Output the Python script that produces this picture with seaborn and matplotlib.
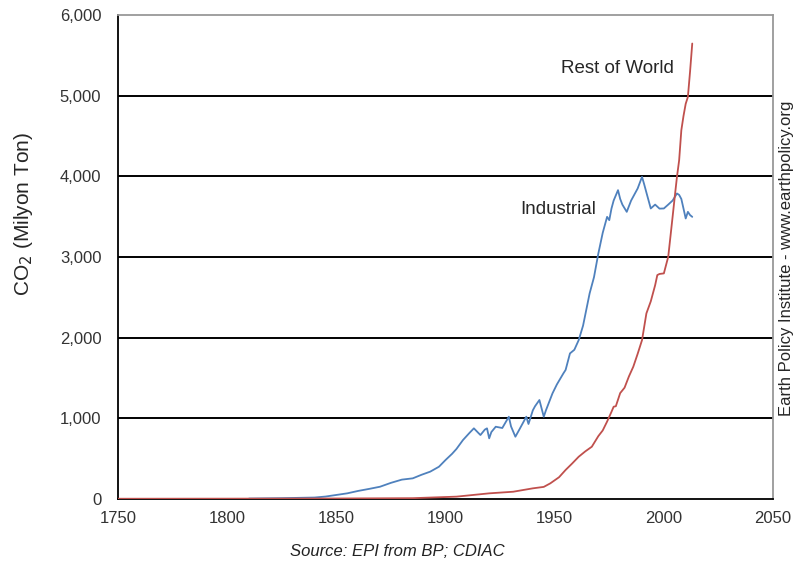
import matplotlib
matplotlib.use('Agg')
import matplotlib.pyplot as plt
import seaborn as sns

# data (million tons CO2)
ind_years = [1810, 1825, 1840, 1845, 1850, 1855, 1860, 1865, 1870, 1875, 1880, 1885,
             1889, 1893, 1897, 1900, 1903, 1905, 1908, 1911, 1913, 1915, 1916, 1918,
             1919, 1920, 1921, 1923, 1926, 1929, 1930, 1932, 1934, 1937, 1938, 1940,
             1941, 1943, 1945, 1946, 1949, 1951, 1954, 1955, 1957, 1959, 1961, 1963,
             1966, 1968, 1970, 1972, 1974, 1975, 1976, 1977, 1979, 1980, 1981, 1983,
             1985, 1986, 1988, 1990, 1991, 1992, 1994, 1996, 1998, 2000, 2002, 2004,
             2006, 2007, 2008, 2009, 2010, 2011, 2012, 2013]
ind_vals = [5, 10, 18, 30, 50, 70, 100, 125, 152, 200, 240, 256,
            300, 339, 400, 483, 560, 620, 731, 820, 876, 820, 793, 860,
            876, 752, 830, 896, 880, 1020, 900, 772, 870, 1020, 930, 1100,
            1150, 1227, 1020, 1100, 1310, 1420, 1558, 1600, 1805, 1850, 1970, 2150,
            2549, 2750, 3045, 3300, 3498, 3457, 3600, 3700, 3829, 3720, 3650, 3560,
            3700, 3750, 3850, 3994, 3900, 3800, 3602, 3650, 3600, 3602, 3650, 3700,
            3788, 3770, 3720, 3600, 3478, 3560, 3520, 3498]

row_years = [1750, 1800, 1850, 1885, 1905, 1920, 1931, 1940, 1945, 1948, 1952,
             1955, 1958, 1961, 1964, 1967, 1970, 1972, 1974, 1976, 1977, 1978,
             1980, 1982, 1984, 1986, 1988, 1990, 1992, 1994, 1996, 1997, 1998,
             2000, 2001, 2002, 2003, 2004, 2005, 2006, 2007, 2008, 2009, 2010,
             2011, 2012, 2013]
row_vals = [3, 4, 6, 10, 29, 70, 90, 132, 150, 194, 270,
            360, 440, 524, 590, 648, 780, 850, 960, 1080, 1144, 1150,
            1313, 1380, 1520, 1640, 1800, 1970, 2301, 2450, 2650, 2776, 2790,
            2797, 2900, 3003, 3250, 3498, 3750, 3994, 4200, 4572, 4750, 4900,
            4985, 5300, 5647]

y_ticks = [0, 1000, 2000, 3000, 4000, 5000, 6000]
x_ticks = [1750, 1800, 1850, 1900, 1950, 2000, 2050]

sns.set_style("white")
plt.rcParams['font.family'] = ['Liberation Sans', 'DejaVu Sans']

fig = plt.figure(figsize=(7.94, 5.66), dpi=100)
ax = fig.add_axes([0.1486, 0.1184, 0.825, 0.855])

# gridlines first so the lines sit on top
for yv in y_ticks[1:-1]:
    ax.axhline(yv, color='black', lw=1.4, zorder=1)

sns.lineplot(x=ind_years, y=ind_vals, color='#4F81BD', lw=1.3, ax=ax, zorder=3)
sns.lineplot(x=row_years, y=row_vals, color='#C0504D', lw=1.3, ax=ax, zorder=4)

ax.set_xlim(1750, 2050)
ax.set_ylim(0, 6000)
ax.set_xticks(x_ticks)
ax.set_yticks(y_ticks)
ax.set_yticklabels([f'{v:,}' for v in y_ticks])
ax.tick_params(axis='y', direction='inout', length=8, width=1.2, colors='black',
               labelsize=12, labelcolor='#333333', pad=8)
ax.tick_params(axis='x', direction='out', length=5, width=1.2, colors='black',
               labelsize=12, labelcolor='#333333', pad=4)

for s in ['left', 'bottom']:
    ax.spines[s].set_color('black')
    ax.spines[s].set_linewidth(1.3)
for s in ['top', 'right']:
    ax.spines[s].set_color('#999999')
    ax.spines[s].set_linewidth(1.3)

ax.set_xlabel('')
ax.set_ylabel('')
fig.text(0.030, 0.622, 'CO$_2$ (Milyon Ton)', fontsize=15, rotation=90,
         ha='center', va='center')

ax.text(1934, 3590, 'Industrial', fontsize=13.5, va='center', ha='left')
ax.text(1953, 5340, 'Rest of World', fontsize=13.5, va='center', ha='left')

fig.text(0.990, 0.544, 'Earth Policy Institute - www.earthpolicy.org', rotation=90,
         fontsize=12, ha='center', va='center')
fig.text(0.501, 0.025, 'Source: EPI from BP; CDIAC', fontsize=12, style='italic',
         ha='center', va='center', color='#222222')

fig.savefig('out.png', dpi=100)
